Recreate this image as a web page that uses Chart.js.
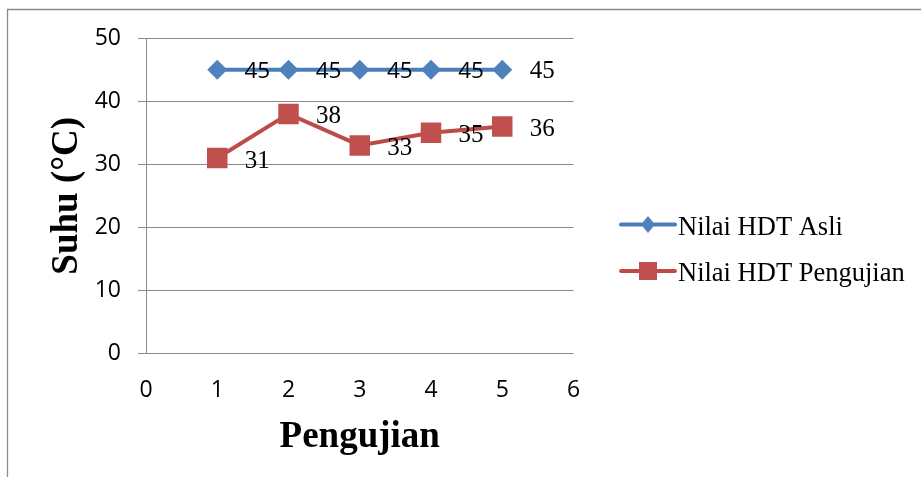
<!DOCTYPE html>
<html>
<head>
<meta charset="utf-8">
<script src="https://cdn.jsdelivr.net/npm/chart.js@4/dist/chart.umd.min.js"></script>
<style>
  html, body { margin: 0; padding: 0; background: #fff; }
  #wrap { width: 921px; height: 477px; position: relative; }
</style>
</head>
<body>
<div id="wrap"><canvas id="chart" width="921" height="477"></canvas></div>
<script>
// Test runs (x) and the two temperature series (°C)
const pengujian = [1, 2, 3, 4, 5];
const hdtAsli = [45, 45, 45, 45, 45];
const hdtPengujian = [31, 38, 33, 35, 36];
const seriesNames = ['Nilai HDT Asli', 'Nilai HDT Pengujian'];
const xTicks = [0, 1, 2, 3, 4, 5, 6];
const yTicks = [0, 10, 20, 30, 40, 50];
// font family used for each value label of the first series
const asliLabelFamilies = ['sans', 'sans', 'sans', 'sans', 'serif'];

const BLUE_LINE = '#4A7EBB', BLUE_MARK = '#4F81BD';
const RED_LINE = '#BE4B48', RED_MARK = '#C0504D';
const GRID = '#8a8a8a';
const SANS = "'Open Sans', 'Liberation Sans', sans-serif";
const SERIF = "'Liberation Serif', 'Times New Roman', serif";

const toPoints = ys => pengujian.map((x, i) => ({ x: x, y: ys[i] }));

// Outer frame of the chart
const framePlugin = {
  id: 'frame',
  beforeDraw(chart) {
    const ctx = chart.ctx;
    ctx.save();
    ctx.strokeStyle = '#8c8c8c';
    ctx.lineWidth = 1.3;
    ctx.beginPath();
    ctx.moveTo(7.5, chart.height + 5);
    ctx.lineTo(7.5, 9.5);
    ctx.lineTo(chart.width + 5, 9.5);
    ctx.stroke();
    ctx.restore();
  }
};

// Value labels to the right of each point
const valueLabels = {
  id: 'valueLabels',
  afterDatasetsDraw(chart) {
    const ctx = chart.ctx;
    ctx.save();
    ctx.fillStyle = '#000';
    ctx.textAlign = 'center';
    ctx.textBaseline = 'alphabetic';
    chart.data.datasets.forEach((ds, di) => {
      const meta = chart.getDatasetMeta(di);
      meta.data.forEach((pt, i) => {
        const v = ds.data[i].y;
        let family, size, dy;
        if (di === 0) {
          family = asliLabelFamilies[i] === 'serif' ? SERIF : SANS;
          size = asliLabelFamilies[i] === 'serif' ? 25 : 22.5;
          dy = asliLabelFamilies[i] === 'serif' ? 8.5 : 8;
        } else {
          family = SERIF; size = 25; dy = 9.5;
        }
        ctx.font = size + 'px ' + family;
        ctx.fillText(String(v), pt.x + 40, pt.y + dy);
      });
    });
    ctx.restore();
  }
};

// Legend on the right: line sample with marker, then series name
const sideLegend = {
  id: 'sideLegend',
  afterDraw(chart) {
    const ctx = chart.ctx;
    const items = [
      { name: seriesNames[0], line: BLUE_LINE, mark: BLUE_MARK, shape: 'diamond', cy: 224.5 },
      { name: seriesNames[1], line: RED_LINE, mark: RED_MARK, shape: 'square', cy: 271 }
    ];
    ctx.save();
    items.forEach(it => {
      ctx.strokeStyle = it.line;
      ctx.lineWidth = 4;
      ctx.lineCap = 'round';
      ctx.beginPath();
      ctx.moveTo(621, it.cy);
      ctx.lineTo(675, it.cy);
      ctx.stroke();
      ctx.fillStyle = it.mark;
      const mx = 648;
      ctx.beginPath();
      if (it.shape === 'diamond') {
        ctx.moveTo(mx, it.cy - 8.5);
        ctx.lineTo(mx + 7, it.cy);
        ctx.lineTo(mx, it.cy + 8.5);
        ctx.lineTo(mx - 7, it.cy);
        ctx.closePath();
      } else {
        ctx.rect(mx - 9, it.cy - 9, 18, 18);
      }
      ctx.fill();
      ctx.fillStyle = '#000';
      ctx.font = '26.5px ' + SERIF;
      ctx.textAlign = 'left';
      ctx.textBaseline = 'alphabetic';
      ctx.fillText(it.name, 678, it.cy + 10);
    });
    ctx.restore();
  }
};

new Chart(document.getElementById('chart'), {
  type: 'line',
  data: {
    datasets: [
      {
        label: seriesNames[0],
        data: toPoints(hdtAsli),
        borderColor: BLUE_LINE,
        backgroundColor: BLUE_MARK,
        borderWidth: 4,
        pointStyle: 'rectRot',
        pointRadius: 10,
        pointBorderWidth: 0,
        pointBackgroundColor: BLUE_MARK,
        tension: 0
      },
      {
        label: seriesNames[1],
        data: toPoints(hdtPengujian),
        borderColor: RED_LINE,
        backgroundColor: RED_MARK,
        borderWidth: 4,
        pointStyle: 'rect',
        pointRadius: 14.5,
        pointBorderWidth: 0,
        pointBackgroundColor: RED_MARK,
        tension: 0
      }
    ]
  },
  options: {
    responsive: false,
    animation: false,
    events: [],
    layout: { padding: { left: 0, top: 38.3, right: 347.5, bottom: 0 } },
    plugins: {
      legend: { display: false },
      tooltip: { enabled: false }
    },
    scales: {
      x: {
        type: 'linear',
        min: xTicks[0],
        max: xTicks[xTicks.length - 1],
        afterBuildTicks(scale) { scale.ticks = xTicks.map(v => ({ value: v })); },
        grid: { display: false, drawTicks: false },
        border: { display: false },
        ticks: { color: '#000', font: { family: SANS, size: 23 }, padding: 23, maxRotation: 0 },
        title: {
          display: true,
          text: 'Pengujian',
          color: '#000',
          font: { family: SERIF, size: 37, weight: 'bold' },
          padding: { top: 0, bottom: 17.5 }
        },
        afterFit(scale) { scale.height = 123.7; }
      },
      y: {
        type: 'linear',
        min: yTicks[0],
        max: yTicks[yTicks.length - 1],
        afterBuildTicks(scale) { scale.ticks = yTicks.map(v => ({ value: v })); },
        grid: { color: GRID, lineWidth: 1, tickLength: 8, tickColor: GRID },
        border: { display: true, color: GRID, width: 1 },
        ticks: { color: '#000', font: { family: SANS, size: 23 }, padding: 17 },
        title: {
          display: true,
          text: 'Suhu (°C)',
          color: '#000',
          font: { family: SERIF, size: 37, weight: 'bold' },
          padding: { top: 44.8, bottom: 0 }
        },
        afterFit(scale) { scale.width = 146; }
      }
    }
  },
  plugins: [framePlugin, valueLabels, sideLegend]
});
</script>
</body>
</html>
